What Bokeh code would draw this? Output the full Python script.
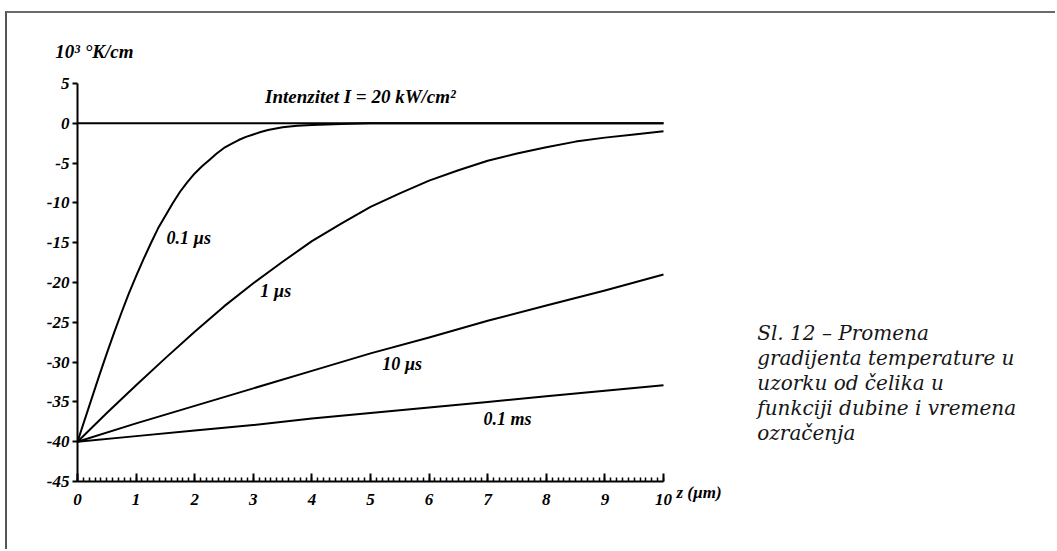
from bokeh.plotting import figure
from bokeh.models import Range1d, Label, FixedTicker, SingleIntervalTicker, LinearAxis
from bokeh.embed import file_html
from bokeh.resources import INLINE

# depth z (µm) and temperature gradient (10^3 °K/cm)
z_01us = [0, 0.125, 0.25, 0.375, 0.5, 0.625, 0.75, 0.875, 1, 1.125, 1.25, 1.375, 1.5, 1.625,
          1.75, 1.875, 2, 2.125, 2.25, 2.375, 2.5, 2.625, 2.75, 2.875, 3, 3.125, 3.25, 3.5,
          3.75, 4, 4.5, 5, 10]
g_01us = [-40, -37.2, -34.4, -31.6, -28.9, -26.3, -23.8, -21.4, -19.2, -17.1, -15.1, -13.2,
          -11.6, -10.05, -8.6, -7.4, -6.3, -5.4, -4.6, -3.8, -3.1, -2.6, -2.1, -1.7, -1.4,
          -1.1, -0.85, -0.5, -0.3, -0.2, -0.1, 0.0, 0.0]

z_1us = [0, 0.5, 1, 1.5, 2, 2.5, 3, 3.5, 4, 4.5, 5, 5.5, 6, 6.5, 7, 7.5, 8, 8.5, 9, 9.5, 10]
g_1us = [-40, -36.4, -32.9, -29.5, -26.2, -23.0, -20.1, -17.4, -14.8, -12.6, -10.5,
         -8.8, -7.2, -5.9, -4.7, -3.8, -3.0, -2.3, -1.8, -1.4, -1.0]

z_10us = [0, 1, 2, 3, 4, 5, 6, 7, 8, 9, 10]
g_10us = [-40, -37.7, -35.5, -33.3, -31.1, -28.9, -26.9, -24.8, -22.9, -21.0, -19.0]

z_01ms = [0, 1, 2, 3, 4, 5, 6, 7, 8, 9, 10]
g_01ms = [-40, -39.3, -38.6, -37.9, -37.1, -36.4, -35.7, -35.0, -34.3, -33.6, -32.9]

z_zero = [0, 10]
g_zero = [0, 0]

curve_labels = ["0.1 µs", "1 µs", "10 µs", "0.1 ms"]
label_z = [1.52, 3.12, 5.2, 6.93]
label_g = [-14.4, -21.1, -30.3, -37.2]

y_ticks = [5, 0, -5, -10, -15, -20, -25, -30, -35, -40, -45]
y_tick_labels = ["5", "0", "-5", "-10", "-15", "-20", "-25", "-30", "-35", "-40", "-45"]

caption = ["Sl. 12 – Promena", "gradijenta temperature u", "uzorku od čelika u",
           "funkciji dubine i vremena", "ozračenja"]

# page geometry (pixels): offset of the bordered canvas, and where axis ends fall
OFF_X, OFF_Y = 7, 13
W, H = 1057 - OFF_X, 551 - OFF_Y
X0_PX, X10_PX = 77 - OFF_X, 663 - OFF_X      # canvas px of z=0 and z=10
YT_PX, YB_PX = 83 - OFF_Y, 481 - OFF_Y       # canvas px of g=5 and g=-45
sx = (X10_PX - X0_PX) / 10.0
sy = (YB_PX - YT_PX) / 50.0
x_start = 0 - X0_PX / sx
x_end = 10 + (W - X10_PX) / sx
y_end = 5 + YT_PX / sy
y_start = -45 - (H - YB_PX) / sy

p = figure(width=W, height=H, output_backend="svg", toolbar_location=None,
           x_range=Range1d(x_start, x_end), y_range=Range1d(y_start, y_end),
           x_axis_location=None, y_axis_location=None,
           min_border=0)
p.styles = {"margin-left": "5px", "margin-top": "11px",
            "border-left": "2px solid #555555", "border-top": "2px solid #6a6a6a"}
p.outline_line_color = None
p.grid.visible = False
p.background_fill_color = "white"
p.border_fill_color = "white"

FONT = "Liberation Serif"

xa = LinearAxis(fixed_location=-45, bounds=(0, 10))
xa.ticker = SingleIntervalTicker(interval=1, num_minor_ticks=10)
xa.axis_line_width = 2
xa.major_tick_in = 8
xa.major_tick_out = 0
xa.minor_tick_in = 4
xa.minor_tick_out = 0
xa.major_tick_line_width = 2
xa.minor_tick_line_width = 1.5
xa.major_label_standoff = 12
xa.major_label_text_font = FONT
xa.major_label_text_font_style = "bold italic"
xa.major_label_text_font_size = "17px"
xa.major_label_text_color = "black"
p.add_layout(xa, "below")

ya = LinearAxis(fixed_location=0, bounds=(-45, 5))
ya.ticker = FixedTicker(ticks=y_ticks)
ya.major_label_overrides = {t: s for t, s in zip(y_ticks, y_tick_labels)}
ya.axis_line_width = 2
ya.major_tick_in = 0
ya.major_tick_out = 5
ya.major_tick_line_width = 2
ya.minor_tick_line_color = None
ya.major_label_standoff = 3
ya.major_label_text_font = FONT
ya.major_label_text_font_style = "bold italic"
ya.major_label_text_font_size = "17px"
ya.major_label_text_color = "black"
p.add_layout(ya, "left")

for zs, gs in [(z_zero, g_zero), (z_01us, g_01us), (z_1us, g_1us), (z_10us, g_10us), (z_01ms, g_01ms)]:
    p.line(zs, gs, line_color="black", line_width=2, line_join="round")

for t, zx, gy in zip(curve_labels, label_z, label_g):
    p.add_layout(Label(x=zx, y=gy, text=t, text_font=FONT, text_font_style="bold italic",
                       text_font_size="18px", text_baseline="middle", text_align="left",
                       text_color="black"))

p.add_layout(Label(x=3.2, y=3.4, text="Intenzitet I = 20 kW/cm²", text_font=FONT,
                   text_font_style="bold italic", text_font_size="19px",
                   text_baseline="middle", text_align="left", text_color="black"))
p.add_layout(Label(x=-0.38, y=9.0, text="10³ °K/cm", text_font=FONT,
                   text_font_style="bold italic", text_font_size="19px",
                   text_baseline="middle", text_align="left", text_color="black"))
p.add_layout(Label(x=10.22, y=-46.4, text="z (µm)", text_font=FONT,
                   text_font_style="bold italic", text_font_size="17px",
                   text_baseline="middle", text_align="left", text_color="black"))

for i, line in enumerate(caption):
    p.add_layout(Label(x=11.6, y=-26.3 - i * 3.15, text=line, text_font="DejaVu Serif",
                       text_font_style="italic", text_font_size="20px",
                       text_baseline="middle", text_align="left", text_color="#161616"))

open("out.html", "w").write(file_html(p, INLINE))
